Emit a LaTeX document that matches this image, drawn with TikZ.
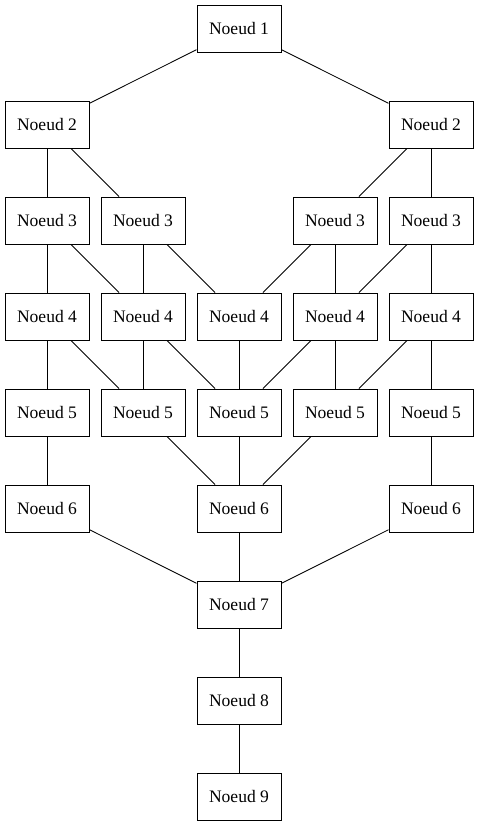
\documentclass[tikz,border=0pt]{standalone}
\usepackage{fontspec}
\setmainfont{Liberation Serif}
\usepackage{tikz}
\tikzset{
  noeud/.style={draw=black, line width=0.5pt, minimum width=47.9pt, minimum height=26.8pt, inner sep=0pt},
  lien/.style={draw=black, line width=0.5pt}
}

\begin{document}
\begin{tikzpicture}[x=0.57pt, y=-0.57pt]
    \useasboundingbox (0,0) rectangle (479,827);

    % --- Row 1 ---
    \node[noeud] (n1) at (239, 28.5) {Noeud 1};

    % --- Row 2 ---
    \node[noeud] (n2a) at (47, 124.5) {Noeud 2};
    \node[noeud] (n2b) at (431, 124.5) {Noeud 2};

    % --- Row 3 ---
    \node[noeud] (n3a) at (47, 220.5) {Noeud 3};
    \node[noeud] (n3b) at (143, 220.5) {Noeud 3};
    \node[noeud] (n3c) at (335, 220.5) {Noeud 3};
    \node[noeud] (n3d) at (431, 220.5) {Noeud 3};

    % --- Row 4 ---
    \node[noeud] (n4a) at (47, 316.5) {Noeud 4};
    \node[noeud] (n4b) at (143, 316.5) {Noeud 4};
    \node[noeud] (n4c) at (239, 316.5) {Noeud 4};
    \node[noeud] (n4d) at (335, 316.5) {Noeud 4};
    \node[noeud] (n4e) at (431, 316.5) {Noeud 4};

    % --- Row 5 ---
    \node[noeud] (n5a) at (47, 412.5) {Noeud 5};
    \node[noeud] (n5b) at (143, 412.5) {Noeud 5};
    \node[noeud] (n5c) at (239, 412.5) {Noeud 5};
    \node[noeud] (n5d) at (335, 412.5) {Noeud 5};
    \node[noeud] (n5e) at (431, 412.5) {Noeud 5};

    % --- Row 6 ---
    \node[noeud] (n6a) at (47, 508.5) {Noeud 6};
    \node[noeud] (n6b) at (239, 508.5) {Noeud 6};
    \node[noeud] (n6c) at (431, 508.5) {Noeud 6};

    % --- Rows 7 to 9 ---
    \node[noeud] (n7) at (239, 604.5) {Noeud 7};
    \node[noeud] (n8) at (239, 700.5) {Noeud 8};
    \node[noeud] (n9) at (239, 796.5) {Noeud 9};

    % Links from row 1 to row 3
    \draw[lien] (n1) -- (n2a);
    \draw[lien] (n1) -- (n2b);
    \draw[lien] (n2a) -- (n3a);
    \draw[lien] (n2a) -- (n3b);
    \draw[lien] (n2b) -- (n3c);
    \draw[lien] (n2b) -- (n3d);

    % Links from row 3 to row 4
    \draw[lien] (n3a) -- (n4a);
    \draw[lien] (n3a) -- (n4b);
    \draw[lien] (n3b) -- (n4b);
    \draw[lien] (n3b) -- (n4c);
    \draw[lien] (n3c) -- (n4c);
    \draw[lien] (n3c) -- (n4d);
    \draw[lien] (n3d) -- (n4d);
    \draw[lien] (n3d) -- (n4e);

    % Links from row 4 to row 5
    \draw[lien] (n4a) -- (n5a);
    \draw[lien] (n4a) -- (n5b);
    \draw[lien] (n4b) -- (n5b);
    \draw[lien] (n4b) -- (n5c);
    \draw[lien] (n4c) -- (n5c);
    \draw[lien] (n4d) -- (n5c);
    \draw[lien] (n4d) -- (n5d);
    \draw[lien] (n4e) -- (n5d);
    \draw[lien] (n4e) -- (n5e);

    % Links from row 5 to row 6
    \draw[lien] (n5a) -- (n6a);
    \draw[lien] (n5b) -- (n6b);
    \draw[lien] (n5c) -- (n6b);
    \draw[lien] (n5d) -- (n6b);
    \draw[lien] (n5e) -- (n6c);

    % Links down to the last node
    \draw[lien] (n6a) -- (n7);
    \draw[lien] (n6b) -- (n7);
    \draw[lien] (n6c) -- (n7);
    \draw[lien] (n7) -- (n8);
    \draw[lien] (n8) -- (n9);
  \end{tikzpicture}
\end{document}
